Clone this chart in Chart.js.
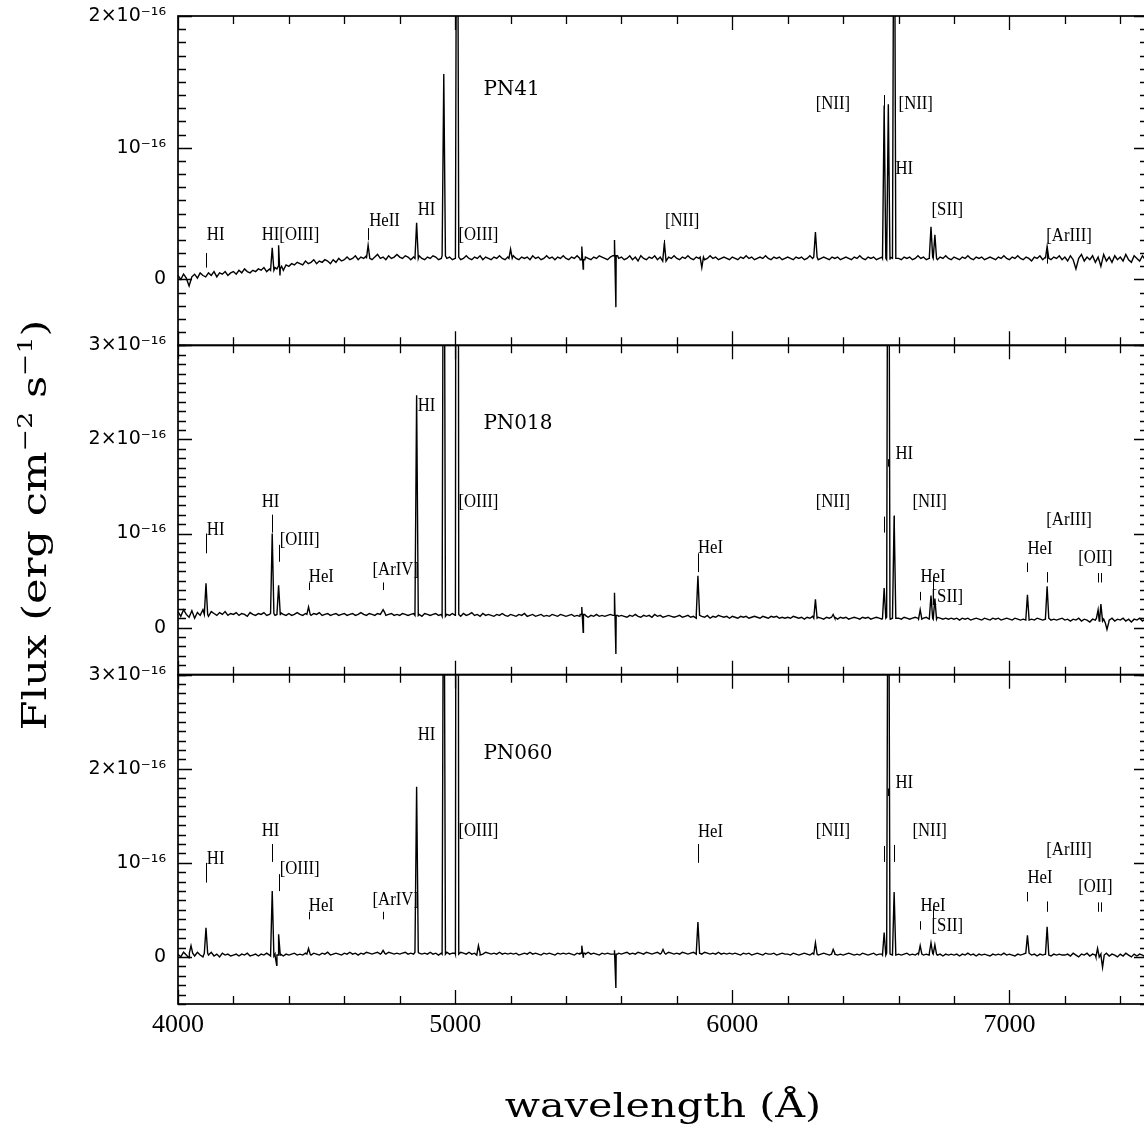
<!DOCTYPE html>
<html>
<head>
<meta charset="utf-8">
<title>PN spectra</title>
<script src="https://cdn.jsdelivr.net/npm/chart.js@4.4.1/dist/chart.umd.min.js"></script>
<style>
  html, body { margin: 0; padding: 0; background: #fff; overflow: hidden; }
  canvas { display: block; }
</style>
</head>
<body>
<canvas id="spectra" width="1160" height="1138"></canvas>
<script>
// continuum samples: one value every 10 Å from 4000 Å, flux in units of 1e-16 erg/cm2/s
const waveStart = 4000;
const waveStep = 10;
const xTicks = [4000, 5000, 6000, 7000];
const fluxMin = -0.5;
const fluxTicks = [0, 1, 2, 3];
const panelNames = ['PN41', 'PN018', 'PN060'];
const panelMax = [2, 3, 3];
const nameWave = 5102;
const nameFlux = [1.44, 2.17, 2.16];

const pn41Cont = [
  0.03, 0.00, 0.04, 0.01, -0.05, 0.02, 0.04, 0.01, 0.05, 0.03, 0.02, 0.05, 0.03, 0.06, 0.02, 0.05, 0.04, 0.06, 0.03, 0.05,
  0.06, 0.04, 0.07, 0.05, 0.08, 0.06, 0.05, 0.07, 0.06, 0.08, 0.07, 0.09, 0.06, 0.08, 0.07, 0.09, 0.08, 0.10, 0.07, 0.11,
  0.10, 0.12, 0.11, 0.13, 0.12, 0.11, 0.14, 0.12, 0.13, 0.15, 0.12, 0.14, 0.13, 0.15, 0.14, 0.12, 0.15, 0.13, 0.16, 0.14,
  0.15, 0.17, 0.15, 0.16, 0.18, 0.15, 0.17, 0.16, 0.18, 0.16, 0.15, 0.17, 0.19, 0.16, 0.17, 0.15, 0.18, 0.16, 0.17, 0.19,
  0.17, 0.16, 0.18, 0.17, 0.15, 0.17, 0.16, 0.18, 0.16, 0.15, 0.17, 0.16, 0.18, 0.17, 0.15, 0.16, 0.18, 0.16, 0.17, 0.15,
  0.16, 0.17, 0.15, 0.16, 0.18, 0.16, 0.15, 0.17, 0.16, 0.18, 0.15, 0.17, 0.16, 0.15, 0.17, 0.16, 0.18, 0.16, 0.15, 0.17,
  0.16, 0.18, 0.16, 0.15, 0.17, 0.16, 0.17, 0.15, 0.18, 0.16, 0.17, 0.15, 0.16, 0.18, 0.16, 0.17, 0.15, 0.17, 0.16, 0.18,
  0.16, 0.15, 0.17, 0.16, 0.18, 0.16, 0.15, 0.17, 0.16, 0.15, 0.17, 0.16, 0.18, 0.17, 0.16, 0.15, 0.17, 0.16, 0.18, 0.16,
  0.17, 0.15, 0.16, 0.18, 0.15, 0.17, 0.14, 0.18, 0.16, 0.15, 0.17, 0.16, 0.18, 0.15, 0.17, 0.16, 0.14, 0.17, 0.16, 0.18,
  0.16, 0.15, 0.17, 0.16, 0.18, 0.16, 0.15, 0.17, 0.16, 0.17, 0.15, 0.16, 0.18, 0.16, 0.17, 0.15, 0.16, 0.17, 0.16, 0.15,
  0.17, 0.16, 0.15, 0.17, 0.16, 0.18, 0.16, 0.17, 0.15, 0.16, 0.17, 0.16, 0.18, 0.16, 0.15, 0.17, 0.16, 0.17, 0.15, 0.16,
  0.17, 0.16, 0.15, 0.17, 0.16, 0.17, 0.15, 0.16, 0.18, 0.16, 0.17, 0.15, 0.16, 0.17, 0.16, 0.15, 0.17, 0.16, 0.17, 0.15,
  0.16, 0.17, 0.16, 0.15, 0.17, 0.16, 0.18, 0.16, 0.15, 0.17, 0.16, 0.17, 0.15, 0.16, 0.17, 0.16, 0.15, 0.17, 0.16, 0.17,
  0.16, 0.15, 0.17, 0.16, 0.17, 0.15, 0.16, 0.18, 0.16, 0.17, 0.15, 0.16, 0.17, 0.16, 0.15, 0.17, 0.16, 0.18, 0.16, 0.15,
  0.17, 0.16, 0.15, 0.17, 0.16, 0.18, 0.16, 0.15, 0.17, 0.16, 0.17, 0.15, 0.16, 0.17, 0.16, 0.15, 0.17, 0.16, 0.18, 0.16,
  0.15, 0.17, 0.16, 0.18, 0.16, 0.15, 0.17, 0.16, 0.14, 0.17, 0.16, 0.18, 0.15, 0.17, 0.16, 0.15, 0.17, 0.16, 0.18, 0.15,
  0.17, 0.14, 0.18, 0.15, 0.08, 0.16, 0.19, 0.14, 0.17, 0.15, 0.18, 0.13, 0.17, 0.10, 0.19, 0.14, 0.17, 0.13, 0.18, 0.15,
  0.17, 0.14, 0.19, 0.15, 0.13, 0.18, 0.16, 0.14, 0.18, 0.15, 0.17,
];
const pn018Cont = [
  0.17, 0.12, 0.19, 0.14, 0.11, 0.18, 0.10, 0.16, 0.13, 0.19, 0.14, 0.12, 0.17, 0.15, 0.13, 0.16, 0.14, 0.17, 0.13, 0.15,
  0.14, 0.16, 0.13, 0.15, 0.14, 0.12, 0.16, 0.14, 0.13, 0.15, 0.14, 0.16, 0.13, 0.14, 0.15, 0.13, 0.14, 0.16, 0.14, 0.13,
  0.15, 0.13, 0.14, 0.16, 0.14, 0.13, 0.15, 0.14, 0.13, 0.15, 0.14, 0.16, 0.13, 0.14, 0.15, 0.13, 0.14, 0.15, 0.13, 0.14,
  0.15, 0.13, 0.14, 0.15, 0.13, 0.14, 0.16, 0.14, 0.13, 0.15, 0.14, 0.13, 0.15, 0.14, 0.16, 0.13, 0.14, 0.15, 0.13, 0.14,
  0.13, 0.15, 0.14, 0.13, 0.14, 0.15, 0.13, 0.14, 0.12, 0.15, 0.14, 0.13, 0.14, 0.15, 0.13, 0.14, 0.12, 0.14, 0.13, 0.15,
  0.13, 0.14, 0.12, 0.15, 0.13, 0.14, 0.16, 0.13, 0.14, 0.12, 0.15, 0.13, 0.14, 0.13, 0.12, 0.14, 0.13, 0.15, 0.13, 0.12,
  0.14, 0.13, 0.12, 0.14, 0.13, 0.15, 0.12, 0.13, 0.14, 0.12, 0.13, 0.14, 0.12, 0.13, 0.12, 0.14, 0.13, 0.12, 0.14, 0.13,
  0.12, 0.13, 0.14, 0.12, 0.13, 0.12, 0.14, 0.13, 0.11, 0.13, 0.12, 0.14, 0.12, 0.13, 0.12, 0.13, 0.14, 0.12, 0.13, 0.12,
  0.13, 0.12, 0.11, 0.13, 0.12, 0.14, 0.12, 0.11, 0.13, 0.12, 0.13, 0.11, 0.14, 0.12, 0.13, 0.11, 0.12, 0.13, 0.12, 0.11,
  0.12, 0.13, 0.11, 0.12, 0.13, 0.11, 0.12, 0.10, 0.13, 0.12, 0.11, 0.13, 0.10, 0.12, 0.11, 0.13, 0.12, 0.11, 0.12, 0.10,
  0.12, 0.11, 0.10, 0.12, 0.11, 0.12, 0.10, 0.11, 0.12, 0.11, 0.10, 0.12, 0.11, 0.10, 0.12, 0.11, 0.12, 0.10, 0.11, 0.10,
  0.11, 0.10, 0.12, 0.11, 0.10, 0.11, 0.09, 0.11, 0.10, 0.12, 0.10, 0.11, 0.10, 0.09, 0.11, 0.10, 0.11, 0.10, 0.09, 0.11,
  0.10, 0.11, 0.09, 0.10, 0.11, 0.10, 0.09, 0.11, 0.10, 0.11, 0.09, 0.10, 0.11, 0.10, 0.09, 0.10, 0.11, 0.09, 0.10, 0.11,
  0.10, 0.09, 0.11, 0.10, 0.09, 0.10, 0.11, 0.10, 0.09, 0.10, 0.11, 0.09, 0.10, 0.09, 0.11, 0.10, 0.09, 0.10, 0.09, 0.10,
  0.09, 0.10, 0.08, 0.10, 0.09, 0.10, 0.08, 0.09, 0.10, 0.09, 0.08, 0.10, 0.09, 0.08, 0.10, 0.09, 0.10, 0.08, 0.09, 0.10,
  0.09, 0.08, 0.10, 0.09, 0.08, 0.09, 0.10, 0.08, 0.09, 0.08, 0.10, 0.09, 0.08, 0.09, 0.10, 0.08, 0.09, 0.08, 0.09, 0.10,
  0.08, 0.09, 0.07, 0.09, 0.08, 0.10, 0.07, 0.09, 0.08, 0.06, 0.09, 0.08, 0.10, 0.07, 0.09, 0.05, 0.08, 0.10, 0.07, 0.09,
  0.08, 0.10, 0.07, 0.09, 0.06, 0.09, 0.08, 0.10, 0.07, 0.09, 0.08,
];
const pn060Cont = [
  0.03, 0.00, 0.05, 0.02, -0.01, 0.04, 0.01, 0.05, 0.02, 0.00, 0.04, 0.02, 0.05, 0.01, 0.03, 0.00, 0.04, 0.02, 0.03, 0.01,
  0.02, 0.03, 0.01, 0.03, 0.02, 0.04, 0.01, 0.02, 0.03, 0.01, 0.03, 0.02, 0.04, 0.02, 0.01, 0.03, 0.02, 0.03, 0.01, 0.03,
  0.02, 0.03, 0.04, 0.02, 0.03, 0.02, 0.04, 0.03, 0.02, 0.04, 0.03, 0.02, 0.04, 0.03, 0.05, 0.02, 0.03, 0.04, 0.03, 0.02,
  0.04, 0.03, 0.05, 0.03, 0.04, 0.02, 0.04, 0.03, 0.05, 0.04, 0.03, 0.04, 0.05, 0.03, 0.04, 0.03, 0.05, 0.04, 0.03, 0.04,
  0.03, 0.04, 0.05, 0.03, 0.04, 0.03, 0.05, 0.04, 0.03, 0.04, 0.03, 0.05, 0.03, 0.04, 0.02, 0.04, 0.03, 0.05, 0.03, 0.04,
  0.04, 0.03, 0.05, 0.04, 0.03, 0.05, 0.03, 0.04, 0.02, 0.04, 0.03, 0.05, 0.04, 0.03, 0.04, 0.03, 0.05, 0.03, 0.04, 0.03,
  0.04, 0.03, 0.04, 0.02, 0.03, 0.04, 0.03, 0.05, 0.03, 0.04, 0.03, 0.02, 0.04, 0.03, 0.04, 0.03, 0.02, 0.04, 0.03, 0.04,
  0.03, 0.04, 0.03, 0.02, 0.04, 0.03, 0.04, 0.03, 0.05, 0.03, 0.04, 0.03, 0.02, 0.04, 0.03, 0.04, 0.03, 0.04, 0.03, 0.04,
  0.03, 0.04, 0.05, 0.03, 0.04, 0.03, 0.05, 0.04, 0.03, 0.05, 0.04, 0.03, 0.04, 0.05, 0.03, 0.04, 0.03, 0.05, 0.04, 0.03,
  0.04, 0.03, 0.05, 0.04, 0.03, 0.04, 0.05, 0.03, 0.04, 0.03, 0.05, 0.04, 0.03, 0.04, 0.03, 0.05, 0.03, 0.04, 0.03, 0.04,
  0.03, 0.04, 0.03, 0.02, 0.04, 0.03, 0.04, 0.02, 0.03, 0.04, 0.03, 0.02, 0.04, 0.03, 0.03, 0.04, 0.02, 0.03, 0.04, 0.03,
  0.03, 0.02, 0.04, 0.03, 0.02, 0.03, 0.04, 0.03, 0.02, 0.04, 0.03, 0.02, 0.03, 0.04, 0.03, 0.02, 0.03, 0.04, 0.02, 0.03,
  0.02, 0.03, 0.04, 0.03, 0.02, 0.03, 0.02, 0.04, 0.03, 0.02, 0.03, 0.04, 0.02, 0.03, 0.03, 0.02, 0.04, 0.03, 0.02, 0.03,
  0.03, 0.02, 0.03, 0.04, 0.02, 0.03, 0.02, 0.04, 0.03, 0.02, 0.03, 0.02, 0.04, 0.03, 0.02, 0.03, 0.01, 0.03, 0.02, 0.03,
  0.02, 0.03, 0.01, 0.03, 0.02, 0.04, 0.02, 0.03, 0.01, 0.03, 0.02, 0.03, 0.02, 0.01, 0.03, 0.02, 0.03, 0.02, 0.04, 0.02,
  0.03, 0.02, 0.01, 0.03, 0.02, 0.03, 0.02, 0.04, 0.02, 0.03, 0.01, 0.03, 0.02, 0.03, 0.02, 0.01, 0.03, 0.02, 0.03, 0.02,
  0.02, 0.03, 0.01, 0.04, 0.02, 0.00, 0.03, 0.02, 0.04, 0.01, 0.03, 0.02, 0.00, 0.03, 0.02, 0.04, 0.01, 0.03, 0.02, 0.00,
  0.03, 0.01, 0.04, 0.02, 0.00, 0.03, 0.01, 0.03, 0.02, 0.00, 0.02,
];

// emission lines and sky residuals: [wavelength, peak flux]
const pn41Lines = [
  [4340, 0.24], [4363, 0.26], [4368, 0.03],
  [4686, 0.26], [4861, 0.43], [4959, 1.56], [5007, 4.7],
  [5200, 0.23], [5457, 0.25], [5462, 0.08], [5575, 0.30], [5580, -0.21],
  [5755, 0.28], [5890, 0.09], [6300, 0.36],
  [6548, 1.32], [6563, 1.33], [6584, 3.9],
  [6717, 0.40], [6731, 0.34], [7136, 0.25],
];
const pn018Lines = [
  [4101, 0.47], [4340, 1.0], [4363, 0.45], [4471, 0.22], [4740, 0.19],
  [4861, 2.47], [4959, 6.5], [5007, 19],
  [5457, 0.22], [5462, -0.05], [5575, 0.37], [5580, -0.28],
  [5876, 0.55], [6300, 0.30], [6364, 0.14],
  [6548, 0.42], [6563, 7.5], [6584, 1.19],
  [6678, 0.19], [6717, 0.34], [6731, 0.31],
  [7065, 0.35], [7136, 0.44], [7320, 0.19], [7330, 0.25], [7352, -0.02],
];
const pn060Lines = [
  [4047, 0.12], [4101, 0.31], [4340, 0.70], [4356, -0.09], [4363, 0.24],
  [4471, 0.09], [4740, 0.07], [4861, 1.81], [4959, 5.5], [5007, 16],
  [5084, 0.12], [5457, 0.12], [5462, 0.0], [5575, 0.07], [5580, -0.33],
  [5750, 0.08], [5876, 0.37], [6300, 0.15], [6364, 0.08],
  [6548, 0.26], [6563, 6.0], [6584, 0.69],
  [6678, 0.12], [6717, 0.15], [6731, 0.13],
  [7065, 0.23], [7136, 0.32], [7318, 0.09], [7336, -0.11],
];

// line identifications: [text, wavelength of text start, flux of text centre]
const pn41Labels = [
  ['HI', 4104, 0.34], ['HI[OIII]', 4302, 0.34], ['HeII', 4690, 0.44], ['HI', 4865, 0.53],
  ['[OIII]', 5012, 0.34], ['[NII]', 5757, 0.44], ['[NII]', 6301, 1.33], ['[NII]', 6600, 1.33],
  ['HI', 6589, 0.84], ['[SII]', 6719, 0.53], ['[ArIII]', 7133, 0.33],
];
const pn018Labels = [
  ['HI', 4104, 1.04], ['HI', 4302, 1.34], ['[OIII]', 4367, 0.93], ['HeI', 4472, 0.54],
  ['[ArIV]', 4702, 0.61], ['HI', 4865, 2.36], ['[OIII]', 5012, 1.34], ['HeI', 5876, 0.85],
  ['[NII]', 6301, 1.34], ['HI', 6589, 1.85], ['[NII]', 6650, 1.34], ['HeI', 6679, 0.54],
  ['[SII]', 6719, 0.33], ['HeI', 7065, 0.84], ['[ArIII]', 7133, 1.14], ['[OII]', 7248, 0.74],
];
const pn060Labels = [
  ['HI', 4104, 1.04], ['HI', 4302, 1.34], ['[OIII]', 4367, 0.93], ['HeI', 4472, 0.54],
  ['[ArIV]', 4702, 0.61], ['HI', 4865, 2.36], ['[OIII]', 5012, 1.34], ['HeI', 5876, 1.33],
  ['[NII]', 6301, 1.34], ['HI', 6589, 1.85], ['[NII]', 6650, 1.34], ['HeI', 6679, 0.54],
  ['[SII]', 6719, 0.33], ['HeI', 7065, 0.84], ['[ArIII]', 7133, 1.14], ['[OII]', 7248, 0.74],
];
// small vertical marks under the identifications: [wavelength, flux from, flux to]
const pn41Marks = [
  [4101, 0.09, 0.20], [4686, 0.30, 0.39], [5755, 0.21, 0.30],
  [6548, 1.29, 1.40], [6563, 0.79, 0.88], [7136, 0.12, 0.25],
];
const pn018Marks = [
  [4101, 0.79, 1.00], [4340, 1.01, 1.20], [4363, 0.70, 0.88], [4471, 0.40, 0.48], [4740, 0.40, 0.48],
  [5876, 0.59, 0.79], [6548, 1.01, 1.18], [6563, 1.71, 1.79], [6584, 1.01, 1.19], [6678, 0.29, 0.38],
  [6724, 0.38, 0.54], [7065, 0.59, 0.69], [7136, 0.48, 0.59], [7320, 0.48, 0.58], [7330, 0.48, 0.58],
];
const pn060Marks = [
  [4101, 0.79, 1.00], [4340, 1.01, 1.20], [4363, 0.70, 0.88], [4471, 0.40, 0.48], [4740, 0.40, 0.48],
  [5876, 1.00, 1.20], [6548, 1.01, 1.18], [6563, 1.71, 1.79], [6584, 1.01, 1.19], [6678, 0.29, 0.38],
  [6724, 0.38, 0.54], [7065, 0.59, 0.69], [7136, 0.48, 0.59], [7320, 0.48, 0.58], [7330, 0.48, 0.58],
];

const lineHalfWidth = 6; // Å either side of a line centre

// merge the continuum samples and the line profiles into one sorted point list
function buildSpectrum(cont, lines) {
  const points = [];
  cont.forEach((v, i) => {
    const w = waveStart + i * waveStep;
    if (!lines.some(([c]) => Math.abs(c - w) < lineHalfWidth)) points.push({ x: w, y: v });
  });
  lines.forEach(([c, peak]) => {
    const base = cont[Math.round((c - waveStart) / waveStep)];
    points.push({ x: c - lineHalfWidth, y: base }, { x: c, y: peak }, { x: c + lineHalfWidth, y: base });
  });
  return points.sort((a, b) => a.x - b.x);
}

const panels = [
  { id: 'y1', cont: pn41Cont, lines: pn41Lines, labels: pn41Labels, marks: pn41Marks },
  { id: 'y2', cont: pn018Cont, lines: pn018Lines, labels: pn018Labels, marks: pn018Marks },
  { id: 'y3', cont: pn060Cont, lines: pn060Lines, labels: pn060Labels, marks: pn060Marks },
];

function fluxLabel(value) {
  if (value === 0) return '0';
  if (value === 1) return '10⁻¹⁶';
  return value + '×10⁻¹⁶';
}

function panelScale(i) {
  const max = panelMax[i];
  return {
    type: 'linear',
    position: 'left',
    stack: 'spectra',
    stackWeight: 1,
    weight: 3 - i,
    min: fluxMin,
    max,
    afterBuildTicks: (scale) => {
      scale.ticks = fluxTicks.filter((v) => v <= max).map((value) => ({ value }));
    },
    afterFit: (scale) => {
      scale.width = 178;
      // the top label may overhang the frame, no extra room for it
      scale.paddingTop = 0;
      scale.paddingBottom = 0;
    },
    grid: { display: false, drawTicks: false },
    border: { display: false },
    ticks: {
      padding: 12,
      color: '#000',
      font: { family: 'DejaVu Sans', size: 19 },
      callback: fluxLabel,
    },
  };
}

// keep each spectrum inside its own panel
const panelClip = {
  id: 'panelClip',
  beforeDatasetDraw(chart, args) {
    const { ctx, chartArea } = chart;
    const y = chart.scales[args.meta.yAxisID];
    ctx.save();
    ctx.beginPath();
    ctx.rect(chartArea.left, y.top, chartArea.right - chartArea.left, y.bottom - y.top);
    ctx.clip();
  },
  afterDatasetDraw(chart) {
    chart.ctx.restore();
  },
};

// boxes round the panels with inward major and minor ticks
const panelFrames = {
  id: 'panelFrames',
  afterDatasetsDraw(chart) {
    const { ctx, chartArea: { left, right } } = chart;
    const x = chart.scales.x;
    ctx.save();
    ctx.strokeStyle = '#000';
    panels.forEach((p) => {
      const y = chart.scales[p.id];
      ctx.lineWidth = 1.3;
      ctx.beginPath();
      for (let k = Math.ceil(y.min * 10); k <= Math.floor(y.max * 10); k++) {
        const py = Math.round(y.getPixelForValue(k / 10)) + 0.5;
        const len = k % 10 === 0 ? 14 : 8;
        ctx.moveTo(left, py); ctx.lineTo(left + len, py);
        ctx.moveTo(right, py); ctx.lineTo(right - len, py);
      }
      for (let w = 4000; w <= 7500; w += 200) {
        const px = Math.round(x.getPixelForValue(w)) + 0.5;
        const len = w % 1000 === 0 ? 14 : 8;
        ctx.moveTo(px, y.top); ctx.lineTo(px, y.top + len);
        ctx.moveTo(px, y.bottom); ctx.lineTo(px, y.bottom - len);
      }
      ctx.stroke();
      ctx.lineWidth = 1.7;
      ctx.strokeRect(left, y.top, right - left, y.bottom - y.top);
    });
    ctx.restore();
  },
};

// slightly narrowed serif text for the identifications
function drawNarrow(ctx, text, px, py) {
  ctx.save();
  ctx.translate(px, py);
  ctx.scale(0.88, 1);
  ctx.fillText(text, 0, 0);
  ctx.restore();
}

// line identifications and object names
const lineLabels = {
  id: 'lineLabels',
  afterDatasetsDraw(chart) {
    const { ctx } = chart;
    const x = chart.scales.x;
    ctx.save();
    ctx.fillStyle = '#000';
    ctx.strokeStyle = '#000';
    ctx.textAlign = 'left';
    ctx.textBaseline = 'middle';
    panels.forEach((p, i) => {
      const y = chart.scales[p.id];
      ctx.font = '19px "Liberation Serif"';
      p.labels.forEach(([text, w, f]) => drawNarrow(ctx, text, x.getPixelForValue(w), y.getPixelForValue(f)));
      ctx.lineWidth = 1;
      ctx.beginPath();
      p.marks.forEach(([w, f0, f1]) => {
        const px = Math.round(x.getPixelForValue(w)) + 0.5;
        ctx.moveTo(px, y.getPixelForValue(f0));
        ctx.lineTo(px, y.getPixelForValue(f1));
      });
      ctx.stroke();
      ctx.font = '20px "DejaVu Serif"';
      ctx.fillText(panelNames[i], x.getPixelForValue(nameWave), y.getPixelForValue(nameFlux[i]));
    });
    ctx.restore();
  },
};

// text with raised exponents, stretched sideways a little
function drawRich(ctx, parts, size, stretch) {
  const supSize = size * 0.62;
  const widths = parts.map(([text, sup]) => {
    ctx.font = `${sup ? supSize : size}px "DejaVu Serif"`;
    return ctx.measureText(text).width;
  });
  const total = widths.reduce((a, b) => a + b, 0);
  ctx.scale(stretch, 1);
  let cx = -total / 2;
  parts.forEach(([text, sup], i) => {
    ctx.font = `${sup ? supSize : size}px "DejaVu Serif"`;
    ctx.fillText(text, cx, sup ? -size * 0.42 : 0);
    cx += widths[i];
  });
}

const axisTitles = {
  id: 'axisTitles',
  afterDraw(chart) {
    const { ctx, chartArea } = chart;
    ctx.save();
    ctx.fillStyle = '#000';
    ctx.textAlign = 'left';
    ctx.textBaseline = 'alphabetic';
    ctx.translate((chartArea.left + chartArea.right) / 2, 1117);
    drawRich(ctx, [['wavelength (Å)']], 33, 1.25);
    ctx.restore();
    ctx.save();
    ctx.fillStyle = '#000';
    ctx.textAlign = 'left';
    ctx.textBaseline = 'alphabetic';
    ctx.translate(46, 525);
    ctx.rotate(-Math.PI / 2);
    drawRich(ctx, [['Flux (erg cm'], ['−2', true], [' s'], ['−1', true], [')']], 34, 1.27);
    ctx.restore();
  },
};

const scales = {
  x: {
    type: 'linear',
    position: 'bottom',
    min: 4000,
    max: 7500,
    afterBuildTicks: (scale) => { scale.ticks = xTicks.map((value) => ({ value })); },
    afterFit: (scale) => { scale.height = 134; },
    grid: { display: false, drawTicks: false },
    border: { display: false },
    ticks: {
      padding: 6,
      color: '#000',
      maxRotation: 0,
      font: { family: 'Liberation Serif', size: 26 },
      callback: (v) => String(v),
    },
  },
};
panels.forEach((p, i) => { scales[p.id] = panelScale(i); });

new Chart(document.getElementById('spectra'), {
  type: 'line',
  data: {
    datasets: panels.map((p) => ({
      data: buildSpectrum(p.cont, p.lines),
      yAxisID: p.id,
      borderColor: '#000',
      borderWidth: 1.4,
      pointRadius: 0,
      tension: 0,
      fill: false,
    })),
  },
  options: {
    responsive: false,
    animation: false,
    events: [],
    layout: { padding: { top: 16, right: 12, left: 0, bottom: 0 } },
    scales,
    plugins: {
      legend: { display: false },
      tooltip: { enabled: false },
    },
  },
  plugins: [panelClip, panelFrames, lineLabels, axisTitles],
});
</script>
</body>
</html>
